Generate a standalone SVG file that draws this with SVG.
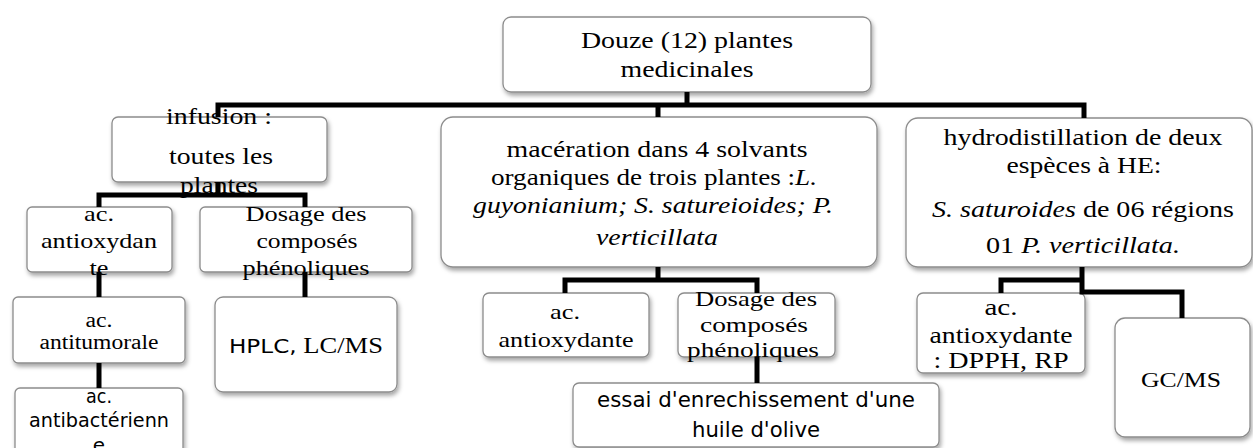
<svg xmlns="http://www.w3.org/2000/svg" width="1253" height="448" viewBox="0 0 1253 448">
<defs>
<filter id="sh" x="-10%" y="-10%" width="130%" height="140%">
<feDropShadow dx="1.5" dy="3" stdDeviation="2" flood-color="#000" flood-opacity="0.35"/>
</filter>
</defs>
<style>
.box{fill:#fff;stroke:#8c8c8c;stroke-width:1.3;filter:url(#sh)}
.t{font-family:"Liberation Serif","Times New Roman",serif;text-anchor:middle;fill:#000}
.s{font-family:"DejaVu Sans",Verdana,sans-serif;text-anchor:middle;fill:#000}
.i{font-style:italic}
.c{fill:none;stroke:#000;stroke-width:5;stroke-linejoin:miter;stroke-linecap:butt}
</style>
<rect width="1253" height="448" fill="#fff"/>

<g id="root">
<rect class="box" x="503" y="17" width="368" height="75" rx="8"/>
<text class="t" font-size="23" x="687" y="48" textLength="212" lengthAdjust="spacingAndGlyphs">Douze (12) plantes</text>
<text class="t" font-size="23" x="687" y="77" textLength="133" lengthAdjust="spacingAndGlyphs">medicinales</text>
</g>

<g id="infusion">
<rect class="box" x="112" y="117" width="215" height="65" rx="6"/>
<text class="t" font-size="23" x="219" y="124" textLength="106" lengthAdjust="spacingAndGlyphs">infusion :</text>
<text class="t" font-size="23" x="221" y="164" textLength="104" lengthAdjust="spacingAndGlyphs">toutes les</text>
<text class="t" font-size="23" x="219" y="193" textLength="78" lengthAdjust="spacingAndGlyphs">plantes</text>
</g>

<g id="antiox1">
<rect class="box" x="27" y="207" width="145" height="65" rx="5"/>
<text class="t" font-size="22" x="99" y="221" textLength="30" lengthAdjust="spacingAndGlyphs">ac.</text>
<text class="t" font-size="22" x="99" y="248" textLength="116" lengthAdjust="spacingAndGlyphs">antioxydan</text>
<text class="t" font-size="22" x="99" y="275" textLength="19" lengthAdjust="spacingAndGlyphs">te</text>
</g>

<g id="dosage1">
<rect class="box" x="200" y="207" width="212" height="65" rx="5"/>
<text class="t" font-size="22" x="306" y="221" textLength="121" lengthAdjust="spacingAndGlyphs">Dosage des</text>
<text class="t" font-size="22" x="307" y="248" textLength="101" lengthAdjust="spacingAndGlyphs">composés</text>
<text class="t" font-size="22" x="306" y="275" textLength="127" lengthAdjust="spacingAndGlyphs">phénoliques</text>
</g>

<g id="antitumorale">
<rect class="box" x="13" y="297" width="172" height="66" rx="5"/>
<text class="t" font-size="20" x="99" y="327" textLength="27" lengthAdjust="spacingAndGlyphs">ac.</text>
<text class="t" font-size="20" x="99" y="349" textLength="119" lengthAdjust="spacingAndGlyphs">antitumorale</text>
</g>

<g id="antibacterienne">
<rect class="box" x="15" y="388" width="168" height="72" rx="5"/>
<text class="s" font-size="20" x="99" y="403" textLength="26" lengthAdjust="spacingAndGlyphs">ac.</text>
<text class="s" font-size="20" x="99" y="427" textLength="140" lengthAdjust="spacingAndGlyphs">antibactérienn</text>
<text class="s" font-size="20" x="99" y="452">e</text>
</g>

<g id="hplc">
<rect class="box" x="215" y="297" width="182" height="95" rx="8"/>
<text x="229" y="353" font-size="23" textLength="154" lengthAdjust="spacingAndGlyphs" style="font-family:'Liberation Serif',serif"><tspan style="font-family:'DejaVu Sans',sans-serif" font-size="20">HPLC,</tspan> LC/MS</text>
</g>

<g id="maceration">
<rect class="box" x="441" y="117" width="436" height="150" rx="12"/>
<text class="t" font-size="23" x="657" y="157" textLength="301" lengthAdjust="spacingAndGlyphs">macération dans 4 solvants</text>
<text class="t" font-size="23" x="654" y="185" textLength="326" lengthAdjust="spacingAndGlyphs">organiques de trois plantes :<tspan class="i">L.</tspan></text>
<text class="t i" font-size="23" x="653" y="213" textLength="360" lengthAdjust="spacingAndGlyphs">guyonianium; S. satureioides; P.</text>
<text class="t i" font-size="23" x="657" y="245" textLength="122" lengthAdjust="spacingAndGlyphs">verticillata</text>
</g>

<g id="antiox2">
<rect class="box" x="483" y="293" width="166" height="64" rx="6"/>
<text class="t" font-size="22" x="565" y="319" textLength="30" lengthAdjust="spacingAndGlyphs">ac.</text>
<text class="t" font-size="22" x="566" y="347" textLength="135" lengthAdjust="spacingAndGlyphs">antioxydante</text>
</g>

<g id="dosage2">
<rect class="box" x="678" y="293" width="157" height="64" rx="6"/>
<text class="t" font-size="22" x="756" y="306" textLength="122" lengthAdjust="spacingAndGlyphs">Dosage des</text>
<text class="t" font-size="22" x="754" y="332" textLength="108" lengthAdjust="spacingAndGlyphs">composés</text>
<text class="t" font-size="22" x="753" y="357" textLength="132" lengthAdjust="spacingAndGlyphs">phénoliques</text>
</g>

<g id="essai">
<rect class="box" x="573" y="383" width="366" height="64" rx="6"/>
<text class="s" font-size="21" x="756" y="407" textLength="318" lengthAdjust="spacingAndGlyphs">essai d'enrechissement d'une</text>
<text class="s" font-size="21" x="756" y="437" textLength="128" lengthAdjust="spacingAndGlyphs">huile d'olive</text>
</g>

<g id="hydro">
<rect class="box" x="906" y="118" width="346" height="149" rx="12"/>
<text class="t" font-size="23" x="1083" y="145" textLength="279" lengthAdjust="spacingAndGlyphs">hydrodistillation de deux</text>
<text class="t" font-size="23" x="1084" y="173" textLength="155" lengthAdjust="spacingAndGlyphs">espèces à HE:</text>
<text class="t" font-size="23" x="1083" y="217" textLength="302" lengthAdjust="spacingAndGlyphs"><tspan class="i">S. saturoides</tspan> de 06 régions</text>
<text class="t" font-size="23" x="1083" y="253" textLength="194" lengthAdjust="spacingAndGlyphs">01 <tspan class="i">P. verticillata.</tspan></text>
</g>

<g id="dpph">
<rect class="box" x="917" y="293" width="168" height="80" rx="6"/>
<text class="t" font-size="23" x="1001" y="315" textLength="33" lengthAdjust="spacingAndGlyphs">ac.</text>
<text class="t" font-size="23" x="1001" y="343" textLength="143" lengthAdjust="spacingAndGlyphs">antioxydante</text>
<text class="t" font-size="23" x="1001" y="368" textLength="135" lengthAdjust="spacingAndGlyphs">: DPPH, RP</text>
</g>

<g id="gcms">
<rect class="box" x="1115" y="318" width="135" height="119" rx="10"/>
<text class="t" font-size="22" x="1181" y="387" textLength="80" lengthAdjust="spacingAndGlyphs">GC/MS</text>
</g>

<g id="connectors">
<path class="c" d="M687,92 V105 M218,117 V105 H1084 V118 M658,105 V117"/>
<path class="c" d="M218,182 V195 M99,207 V195 H305 V207"/>
<path class="c" d="M99,272 V297 M99,363 V388 M305,272 V297"/>
<path class="c" d="M658,267 V280 M565,293 V280 H757 V293"/>
<path class="c" d="M757,357 V383"/>
<path class="c" d="M1082,267 V292 H1182 V318 M1001,293 V280 H1082"/>
</g>
</svg>
